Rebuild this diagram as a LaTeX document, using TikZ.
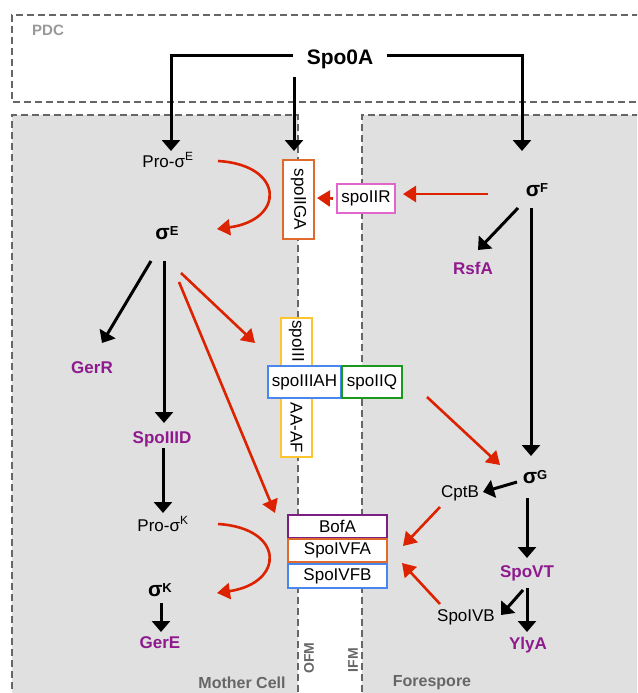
\documentclass[tikz,border=0pt]{standalone}
\usepackage{fontspec}
\setmainfont{Liberation Sans}
\usetikzlibrary{arrows.meta}
\definecolor{cellgray}{HTML}{E0E0E0}
\definecolor{dashgray}{HTML}{666666}
\definecolor{lblgray}{HTML}{666666}
\definecolor{pdcgray}{HTML}{999999}
\definecolor{geneprp}{HTML}{8E1A8E}
\definecolor{redarrow}{HTML}{DD2200}
\definecolor{boxorange}{HTML}{E06A2C}
\definecolor{boxpink}{HTML}{E066CC}
\definecolor{boxyellow}{HTML}{FFC52E}
\definecolor{boxblue}{HTML}{4A86F0}
\definecolor{boxgreen}{HTML}{1A9A1A}
\definecolor{boxpurple}{HTML}{7B2082}
\newcommand{\sgmb}[1]{{\bfseries\fontsize{21}{24}\selectfont σ\raisebox{4.5pt}{\fontsize{13}{14}\selectfont #1}}}
\begin{document}
\begin{tikzpicture}[x=1pt,y=-1pt,
  dline/.style={draw=dashgray,line width=1.3pt,dash pattern=on 7pt off 4pt},
  reg/.style={font=\fontsize{17}{20}\selectfont,inner sep=0pt},
  sig/.style={inner sep=0pt},
  gene/.style={font=\bfseries\fontsize{17}{20}\selectfont,text=geneprp,inner sep=0pt},
  lbl/.style={font=\bfseries\fontsize{16}{18}\selectfont,text=lblgray,inner sep=0pt},
  mbox/.style={draw,fill=white,line width=2pt,inner sep=0pt,font=\fontsize{17}{20}\selectfont},
  blk/.style={line width=3pt,-{Triangle[length=11pt,width=18pt]}},
  redarr/.style={draw=redarrow,line width=2.6pt,-{Triangle[length=13pt,width=16pt]}}
]
\useasboundingbox (0,0) rectangle (637,693);
\clip (0,0) rectangle (637,693);
\fill[white] (0,0) rectangle (637,693);
% compartments
\fill[cellgray] (12,115) rectangle (298,700);
\fill[cellgray] (362,115) rectangle (650,700);
\draw[dline] (650,15) -- (12,15) -- (12,102) -- (650,102);
\draw[dline] (12,700) -- (12,115) -- (298,115) -- (298,700);
\draw[dline] (650,115) -- (362,115) -- (362,700);
% labels
\node[font=\bfseries\fontsize{15}{17}\selectfont,text=pdcgray,inner sep=0pt] (pdc) at (48,30) {PDC};
\node[lbl] (mc) at (242,683) {Mother Cell};
\node[lbl] (fs) at (432,683) {Forespore};
\node[lbl,font=\bfseries\fontsize{14}{16}\selectfont,rotate=90] (ofm) at (309,658) {OFM};
\node[lbl,font=\bfseries\fontsize{14}{16}\selectfont,rotate=90] (ifm) at (353,660) {IFM};
% main nodes
\node[inner sep=0pt,font=\bfseries\fontsize{21}{24}\selectfont] (spo0a) at (340,59) {Spo0A};
\node[reg] (proE) at (168,160) {Pro-σ\textsuperscript{E}};
\node[sig] (sigE) at (167,233) {\sgmb{E}};
\node[sig] (sigF) at (537,190) {\sgmb{F}};
\node[sig] (sigG) at (535,477) {\sgmb{G}};
\node[reg] (proK) at (163,524) {Pro-σ\textsuperscript{K}};
\node[sig] (sigK) at (160,590) {\sgmb{K}};
\node[gene] (rsfA) at (473,268) {RsfA};
\node[gene] (gerR) at (92,368) {GerR};
\node[gene] (spoIIID) at (162,439) {SpoIIID};
\node[gene] (spoVT) at (527,573) {SpoVT};
\node[gene] (ylyA) at (528,645) {YlyA};
\node[gene] (gerE) at (160,643) {GerE};
\node[reg] (cptB) at (460,493) {CptB};
\node[reg] (spoIVB) at (466,617) {SpoIVB};
% membrane boxes
\node[mbox,draw=boxorange,rotate=-90,minimum width=79pt,minimum height=31pt] (ga) at (298.5,199.5) {spoIIGA};
\node[mbox,draw=boxpink,minimum width=58pt,minimum height=29pt] (ir) at (366,198.5) {spoIIR};
\node[mbox,draw=boxyellow,minimum width=31pt,minimum height=139pt] (aaaf) at (296.5,387.5) {};
\node[reg,rotate=-90] (aaTop) at (296.5,341) {spoIII};
\node[reg,rotate=-90] (aaBot) at (296.5,428) {AA-AF};
\node[mbox,draw=boxblue,minimum width=73pt,minimum height=32pt] (ah) at (304.5,382) {spoIIIAH};
\node[mbox,draw=boxgreen,minimum width=60pt,minimum height=32pt] (q) at (372,382) {spoIIQ};
\node[mbox,draw=boxpurple,minimum width=99pt,minimum height=23pt] (bofA) at (337.5,526.5) {BofA};
\node[mbox,draw=boxorange,minimum width=99pt,minimum height=23pt] (ivfa) at (337.5,550.5) {SpoIVFA};
\node[mbox,draw=boxblue,minimum width=99pt,minimum height=24pt] (ivfb) at (337.5,576) {SpoIVFB};
% Spo0A connectors
\draw[blk] ([shift={(-47,-3)}]spo0a.center) -| ([shift={(3,-9)}]proE.center);
\draw[blk] ([shift={(-46,18)}]spo0a.center) -- ([shift={(-4.5,-48.5)}]ga.center);
\draw[blk] ([shift={(47,-3)}]spo0a.center) -| ([shift={(-15,-39)}]sigF.center);
% red connectors top
\draw[redarr] ([shift={(-49,4)}]sigF.center) -- ([shift={(37,-4.5)}]ir.center);
\draw[redarr] ([shift={(-33,0)}]ir.center) -- ([shift={(18.5,-1.5)}]ga.center);
\draw[redarr] ([shift={(50,1)}]proE.center) .. controls +(67,4) and +(68,-9) .. ([shift={(50,-4)}]sigE.center);
% forespore
\draw[blk] ([shift={(-19,18)}]sigF.center) -- ([shift={(5,-18)}]rsfA.center);
\draw[blk] ([shift={(-6,18)}]sigF.center) -- ([shift={(-4,-21)}]sigG.center);
\draw[blk] ([shift={(-18,5)}]sigG.center) -- ([shift={(23,-1)}]cptB.center);
\draw[blk] ([shift={(-8,21)}]sigG.center) -- ([shift={(0,-15)}]spoVT.center);
\draw[blk] ([shift={(0,15)}]spoVT.center) -- ([shift={(-1,-13)}]ylyA.center);
\draw[blk] ([shift={(-4,17)}]spoVT.center) -- ([shift={(35,-2)}]spoIVB.center);
\draw[redarr] ([shift={(55,15)}]q.center) -- ([shift={(-35,-12)}]sigG.center);
\draw[redarr] ([shift={(-20,14)}]cptB.center) -- ([shift={(65.5,-4.5)}]ivfa.center);
\draw[redarr] ([shift={(-26,-13)}]spoIVB.center) -- ([shift={(64.5,12.5)}]ivfa.center);
% mother cell
\draw[blk] ([shift={(-16,28)}]sigE.center) -- ([shift={(10,-25)}]gerR.center);
\draw[blk] ([shift={(-3,28)}]sigE.center) -- ([shift={(2,-16)}]spoIIID.center);
\draw[redarr] ([shift={(14,40)}]sigE.center) -- ([shift={(-41.5,-44.5)}]aaaf.center);
\draw[redarr] ([shift={(12,49)}]sigE.center) -- ([shift={(-62.5,-13.5)}]bofA.center);
\draw[blk] ([shift={(1,9)}]spoIIID.center) -- ([shift={(0,-11)}]proK.center);
\draw[redarr] ([shift={(55,0)}]proK.center) .. controls +(67,4) and +(68,-10) .. ([shift={(57,3)}]sigK.center);
\draw[blk] ([shift={(1,13)}]sigK.center) -- ([shift={(1,-11)}]gerE.center);
\end{tikzpicture}
\end{document}
